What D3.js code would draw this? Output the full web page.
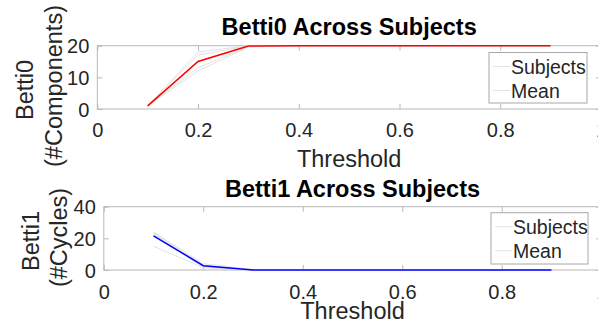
<!DOCTYPE html>
<html>
<head>
<meta charset="utf-8">
<script src="https://cdn.jsdelivr.net/npm/d3@7"></script>
<style>
  html, body { margin: 0; padding: 0; background: #fff; }
  svg { display: block; font-family: "Liberation Sans", Arial, sans-serif; }
</style>
</head>
<body>
<svg id="chart" width="598" height="331"></svg>
<script>
// ---- Data ----
const thresholds = [0.1, 0.2, 0.3, 0.4, 0.5, 0.6, 0.7, 0.8, 0.9];

const betti0Subjects = [
  [1, 18, 20, 20, 20, 20, 20, 20, 20],
  [1, 17, 20, 20, 20, 20, 20, 20, 20],
  [1, 15, 20, 20, 20, 20, 20, 20, 20],
  [1, 13, 19.8, 20, 20, 20, 20, 20, 20],
  [1, 12, 19.6, 20, 20, 20, 20, 20, 20]
];
const betti0Mean = [1, 15, 19.9, 20, 20, 20, 20, 20, 20];

const betti1Subjects = [
  [24, 4, 0.3, 0, 0, 0, 0, 0, 0],
  [23.5, 3, 0, 0, 0, 0, 0, 0, 0],
  [23, 3, 0, 0, 0, 0, 0, 0, 0],
  [22.5, 2, 0, 0, 0, 0, 0, 0, 0],
  [15, 1.5, 0, 0, 0, 0, 0, 0, 0]
];
const betti1Mean = [21.6, 2.7, 0.06, 0, 0, 0, 0, 0, 0];

const xTicks = [0, 0.2, 0.4, 0.6, 0.8, 1];
const yTicks0 = [0, 10, 20];
const yTicks1 = [0, 20, 40];
const legendLabels = ["Subjects", "Mean"];

// ---- Drawing ----
const svg = d3.select("#chart");
const boxColor = "#b8b8b8";
const textColor = "#262626";
const subjColor = "#e3e3e3";

function panel(cfg) {
  const { left, right, top, bottom, yMax, yTicks, subjects, mean, color,
          title, titleY, ylab1, ylab2, ylab1X, ylab2X, ylab1Y, ylab2Y,
          xlabY, tickLabY, legend } = cfg;
  const x = d3.scaleLinear().domain([0, 1]).range([left, right]);
  const y = d3.scaleLinear().domain([0, yMax]).range([bottom, top]);
  const g = svg.append("g");

  // box
  g.append("rect").attr("x", left).attr("y", top)
    .attr("width", right - left).attr("height", bottom - top)
    .attr("fill", "none").attr("stroke", boxColor).attr("stroke-width", 1);

  // axes with inward ticks
  const tl = 5;
  const xb = g.append("g").attr("transform", `translate(0,${bottom})`)
    .call(d3.axisBottom(x).tickValues(xTicks).tickSize(-tl)
      .tickFormat(d => d === 0 ? "0" : d === 1 ? "1" : d3.format(".1f")(d)));
  const xt = g.append("g").attr("transform", `translate(0,${top})`)
    .call(d3.axisTop(x).tickValues(xTicks).tickSize(-tl).tickFormat(""));
  const yl = g.append("g").attr("transform", `translate(${left},0)`)
    .call(d3.axisLeft(y).tickValues(yTicks).tickSize(-tl).tickPadding(8));
  const yr = g.append("g").attr("transform", `translate(${right},0)`)
    .call(d3.axisRight(y).tickValues(yTicks).tickSize(-tl).tickFormat(""));
  [xb, xt, yl, yr].forEach(a => {
    a.select(".domain").remove();
    a.selectAll(".tick line").attr("stroke", boxColor);
    a.selectAll("text").attr("fill", textColor).style("font-size", "20px")
      .style("font-family", "'Liberation Sans', Arial, sans-serif");
  });
  xb.selectAll("text").attr("dy", null).attr("y", tickLabY - bottom);
  yl.selectAll("text").attr("dy", "0.35em");

  const line = d3.line().x((d, i) => x(thresholds[i])).y(d => y(d));
  subjects.forEach(s => {
    g.append("path").attr("d", line(s)).attr("fill", "none")
      .attr("stroke", subjColor).attr("stroke-width", 1);
  });
  g.append("path").attr("d", line(mean)).attr("fill", "none")
    .attr("stroke", color).attr("stroke-width", 1.5);

  // title
  g.append("text").attr("x", (left + right) / 2).attr("y", titleY)
    .attr("text-anchor", "middle").attr("fill", "#000")
    .style("font-size", "23.5px").style("font-weight", "bold").text(title);
  // x label
  g.append("text").attr("x", (left + right) / 2).attr("y", xlabY)
    .attr("text-anchor", "middle").attr("fill", textColor)
    .style("font-size", "23.5px").text("Threshold");
  // y label (two lines)
  g.append("text").attr("transform", `translate(${ylab1X},${ylab1Y}) rotate(-90)`)
    .attr("text-anchor", "middle").attr("fill", textColor)
    .style("font-size", "23.5px").text(ylab1);
  g.append("text").attr("transform", `translate(${ylab2X},${ylab2Y}) rotate(-90)`)
    .attr("text-anchor", "middle").attr("fill", textColor)
    .style("font-size", "23.5px").text(ylab2);

  // legend
  const lg = g.append("g");
  lg.append("rect").attr("x", legend.x).attr("y", legend.y)
    .attr("width", legend.w).attr("height", legend.h)
    .attr("fill", "#fff").attr("stroke", "#a8a8a8").attr("stroke-width", 1);
  legendLabels.forEach((lab, i) => {
    const by = legend.y + 21 + i * 24;
    lg.append("line").attr("x1", legend.x + 4).attr("x2", legend.x + 21)
      .attr("y1", by - 7).attr("y2", by - 7)
      .attr("stroke", subjColor).attr("stroke-width", 1);
    lg.append("text").attr("x", legend.x + 22).attr("y", by)
      .attr("fill", textColor).style("font-size", "19.5px").text(lab);
  });
}

panel({
  left: 97.3, right: 601, top: 45.7, bottom: 109, yMax: 20, yTicks: yTicks0,
  subjects: betti0Subjects, mean: betti0Mean, color: "#ff0000",
  title: "Betti0 Across Subjects", titleY: 35,
  ylab1: "Betti0", ylab2: "(#Components)", ylab1X: 33, ylab2X: 62,
  ylab1Y: 90, ylab2Y: 86,
  xlabY: 166.5, tickLabY: 137,
  legend: { x: 489, y: 52.5, w: 98, h: 50.5 }
});

panel({
  left: 103.8, right: 601.2, top: 206.7, bottom: 270, yMax: 40, yTicks: yTicks1,
  subjects: betti1Subjects, mean: betti1Mean, color: "#0000ff",
  title: "Betti1 Across Subjects", titleY: 196.5,
  ylab1: "Betti1", ylab2: "(#Cycles)", ylab1X: 39, ylab2X: 67,
  ylab1Y: 241, ylab2Y: 237.5,
  xlabY: 319, tickLabY: 299,
  legend: { x: 491, y: 212.7, w: 97, h: 51.3 }
});
</script>
</body>
</html>
